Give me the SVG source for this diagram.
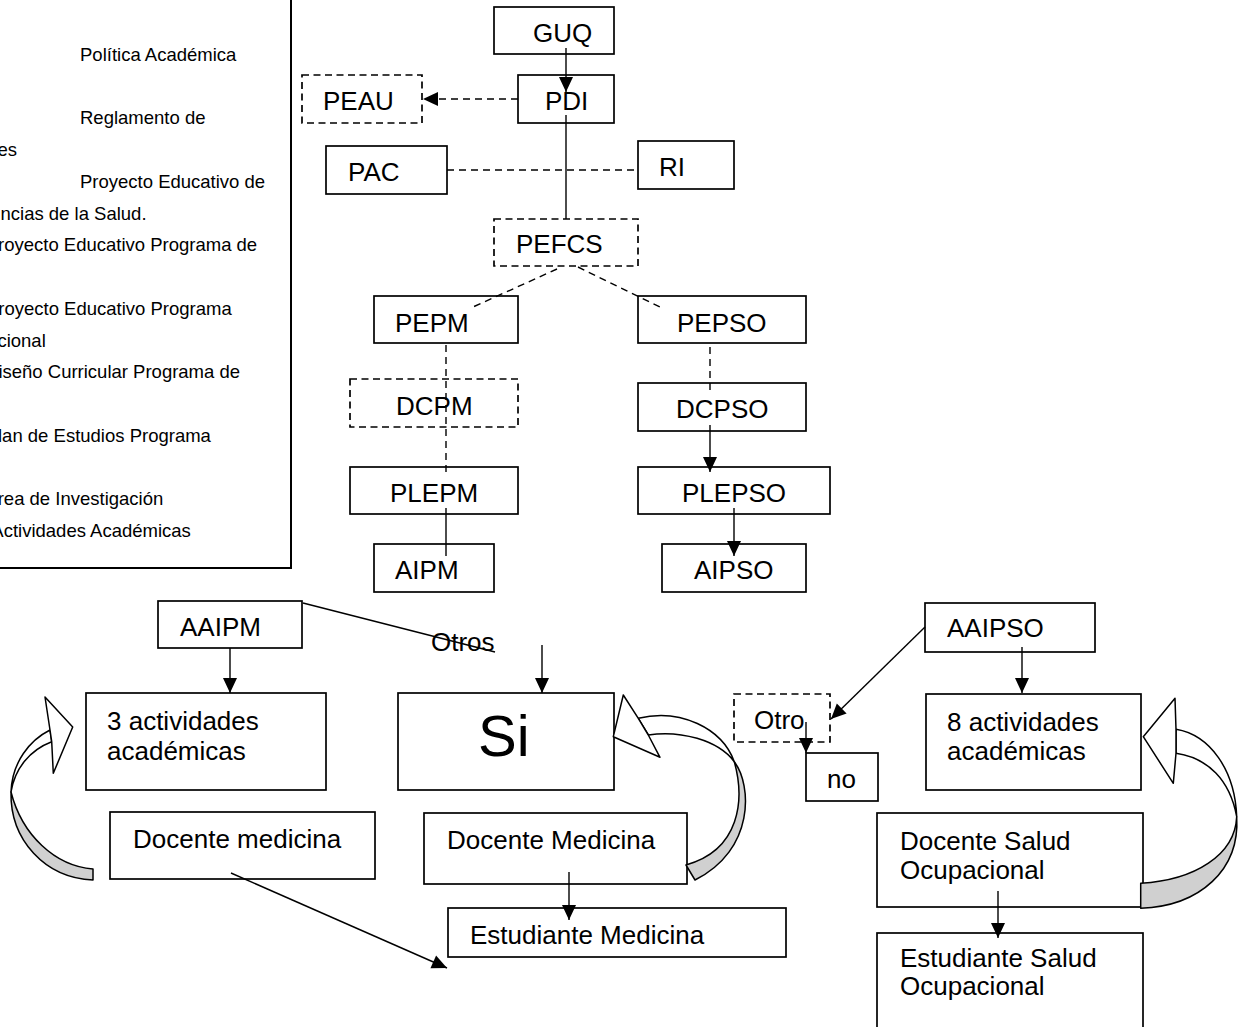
<svg xmlns="http://www.w3.org/2000/svg" width="1246" height="1027" viewBox="0 0 1246 1027">
  <style>
    text { font-family: "Liberation Sans", Arial, Helvetica, sans-serif; fill: #000; }
    .lbl { font-size: 26px; }
    .big { font-size: 58px; }
    .note { font-size: 18.5px; }
    .box { fill: #fff; stroke: #000; stroke-width: 1.7; }
    .dbox { fill: #fff; stroke: #000; stroke-width: 1.7; stroke-dasharray: 7 4.5; }
    .ln { fill: none; stroke: #000; stroke-width: 1.4; }
    .dln { fill: none; stroke: #000; stroke-width: 1.4; stroke-dasharray: 7 5; }
    .arr { marker-end: url(#head); }
    .front { fill: #fff; stroke: #000; stroke-width: 1.5; stroke-linejoin: round; }
    .back { fill: #d0d0d0; stroke: #000; stroke-width: 1.5; stroke-linejoin: round; }
  </style>
  <defs>
    <marker id="head" markerUnits="userSpaceOnUse" markerWidth="17" markerHeight="16" refX="15" refY="7" orient="auto" overflow="visible">
      <path d="M0,0 L15,7 L0,14 z" fill="#000"/>
    </marker>
  </defs>

  <rect width="1246" height="1027" fill="#fff"/>

  <!-- legend panel, partly outside the page -->
  <g id="legend">
    <rect x="-10" y="-10" width="301" height="578" fill="#fff" stroke="#000" stroke-width="2"/>
    <text class="note" x="80" y="60.7">Política Académica</text>
    <text class="note" x="80" y="124.2">Reglamento de</text>
    <text class="note" x="-2.5" y="156">es</text>
    <text class="note" x="80" y="187.7">Proyecto Educativo de</text>
    <text class="note" x="0.5" y="219.5">ncias de la Salud.</text>
    <text class="note" x="-2" y="251.2">royecto Educativo Programa de</text>
    <text class="note" x="-1.7" y="314.7">royecto Educativo Programa</text>
    <text class="note" x="-2.6" y="346.5">cional</text>
    <text class="note" x="-1.6" y="378.2">iseño Curricular Programa de</text>
    <text class="note" x="-2" y="441.7">lan de Estudios Programa</text>
    <text class="note" x="-2.3" y="505.2">rea de Investigación</text>
    <text class="note" x="-8.7" y="537">Actividades Académicas</text>
  </g>

  <!-- upper hierarchy -->
  <g id="GUQ"><rect class="box" x="494" y="7" width="120" height="47"/><text class="lbl" x="533" y="42">GUQ</text></g>
  <g id="PEAU"><rect class="dbox" x="302" y="75" width="120" height="48"/><text class="lbl" x="323" y="110">PEAU</text></g>
  <g id="PDI"><rect class="box" x="518" y="75" width="96" height="48"/><text class="lbl" x="545" y="110">PDI</text></g>
  <g id="PAC"><rect class="box" x="326" y="146" width="121" height="48"/><text class="lbl" x="348" y="181">PAC</text></g>
  <g id="RI"><rect class="box" x="638" y="141" width="96" height="48"/><text class="lbl" x="659" y="176">RI</text></g>
  <g id="PEFCS"><rect class="dbox" x="494" y="219" width="144" height="47"/><text class="lbl" x="516" y="253">PEFCS</text></g>
  <g id="PEPM"><rect class="box" x="374" y="296" width="144" height="47"/><text class="lbl" x="395" y="332">PEPM</text></g>
  <g id="PEPSO"><rect class="box" x="638" y="296" width="168" height="47"/><text class="lbl" x="677" y="332">PEPSO</text></g>
  <g id="DCPM"><rect class="dbox" x="350" y="379" width="168" height="48"/><text class="lbl" x="396" y="415">DCPM</text></g>
  <g id="DCPSO"><rect class="box" x="638" y="383" width="168" height="48"/><text class="lbl" x="676" y="418">DCPSO</text></g>
  <g id="PLEPM"><rect class="box" x="350" y="467" width="168" height="47"/><text class="lbl" x="390" y="502">PLEPM</text></g>
  <g id="PLEPSO"><rect class="box" x="638" y="467" width="192" height="47"/><text class="lbl" x="682" y="502">PLEPSO</text></g>
  <g id="AIPM"><rect class="box" x="374" y="544" width="120" height="48"/><text class="lbl" x="395" y="579">AIPM</text></g>
  <g id="AIPSO"><rect class="box" x="662" y="544" width="144" height="48"/><text class="lbl" x="694" y="579">AIPSO</text></g>

  <!-- activities -->
  <g id="AAIPM"><rect class="box" x="158" y="601" width="144" height="47"/><text class="lbl" x="180" y="636">AAIPM</text></g>
  <g id="Otros"><text class="lbl" x="431" y="651">Otros</text></g>
  <g id="AAIPSO"><rect class="box" x="925" y="603" width="170" height="49"/><text class="lbl" x="947" y="637">AAIPSO</text></g>
  <g id="act3"><rect class="box" x="86" y="693" width="240" height="97"/><text class="lbl" x="107" y="730">3 actividades</text><text class="lbl" x="107" y="760">académicas</text></g>
  <g id="Si"><rect class="box" x="398" y="693" width="216" height="97"/><text class="big" x="478" y="756">Si</text></g>
  <g id="Otro"><rect class="dbox" x="734" y="694" width="96" height="48"/><text class="lbl" x="754" y="729">Otro</text></g>
  <g id="no"><rect class="box" x="806" y="753" width="72" height="48"/><text class="lbl" x="827" y="788">no</text></g>
  <g id="act8"><rect class="box" x="926" y="694" width="215" height="96"/><text class="lbl" x="947" y="731">8 actividades</text><text class="lbl" x="947" y="760">académicas</text></g>
  <g id="docenteM1"><rect class="box" x="110" y="812" width="265" height="67"/><text class="lbl" x="133" y="848">Docente medicina</text></g>
  <g id="docenteM2"><rect class="box" x="424" y="813" width="263" height="71"/><text class="lbl" x="447" y="849">Docente Medicina</text></g>
  <g id="docenteSO"><rect class="box" x="877" y="813" width="266" height="94"/><text class="lbl" x="900" y="850">Docente Salud</text><text class="lbl" x="900" y="879">Ocupacional</text></g>
  <g id="estudianteM"><rect class="box" x="448" y="908" width="338" height="49"/><text class="lbl" x="470" y="944">Estudiante Medicina</text></g>
  <g id="estudianteSO"><rect class="box" x="877" y="933" width="266" height="120"/><text class="lbl" x="900" y="967">Estudiante Salud</text><text class="lbl" x="900" y="995">Ocupacional</text></g>

  <!-- connectors, drawn over the boxes -->
  <g id="connectors">
    <line class="ln arr" x1="566" y1="48" x2="566" y2="92"/>
    <line class="dln arr" x1="518" y1="99" x2="423" y2="99"/>
    <line class="ln" x1="566" y1="115" x2="566" y2="219"/>
    <line class="dln" x1="447" y1="170" x2="638" y2="170"/>
    <line class="dln" x1="557" y1="269" x2="473" y2="307"/>
    <line class="dln" x1="578" y1="267" x2="660" y2="307"/>
    <line class="dln" x1="446" y1="345" x2="446" y2="473"/>
    <line class="dln" x1="710" y1="347" x2="710" y2="391"/>
    <line class="ln arr" x1="710" y1="425" x2="710" y2="472"/>
    <line class="ln" x1="446" y1="508" x2="446" y2="556"/>
    <line class="ln arr" x1="734" y1="508" x2="734" y2="556"/>
    <line class="ln arr" x1="230" y1="648" x2="230" y2="693"/>
    <line class="ln" x1="303" y1="603" x2="495" y2="652"/>
    <line class="ln arr" x1="542" y1="645" x2="542" y2="693"/>
    <line class="ln arr" x1="925" y1="627" x2="831" y2="719"/>
    <line class="ln arr" x1="806" y1="722" x2="806" y2="753"/>
    <line class="ln arr" x1="1022" y1="647" x2="1022" y2="693"/>
    <line class="ln arr" x1="569" y1="872" x2="569" y2="920"/>
    <line class="ln arr" x1="231" y1="873" x2="447" y2="968"/>
    <line class="ln arr" x1="998" y1="891" x2="998" y2="938"/>
  </g>

  <!-- curved feedback arrows: white front face, grey back face near the tail -->
  <g id="curveLeft">
    <path class="back" d="M11,792 C10,840 45,878 93,880 L93,869 C55,866 22,835 11,792 Z"/>
    <path class="front" d="M50,730 C30,740 12,762 11,792 C15,768 30,750 51.7,741.7 Z"/>
    <path class="front" d="M50,730 L45,697 L72.7,727 L53.3,773.3 L51.7,741.7 Z"/>
  </g>
  <g id="curveMiddle">
    <path class="back" d="M734.3,761.7 C752,785 755,850 695,880 L686,865 C740,850 745,800 734.3,761.7 Z"/>
    <path class="front" d="M638.3,718.3 C680,708 722,728 734.3,761.7 C718,740 680,730 648.3,735 Z"/>
    <path class="front" d="M638.3,718.3 L623.3,695 L613.3,736.7 L660,757.3 L648.3,735 Z"/>
  </g>
  <g id="curveRight">
    <path class="back" d="M1236.7,816.7 C1240,870 1200,906 1140.7,908.3 L1140.7,883.3 C1195,880 1235,855 1236.7,816.7 Z"/>
    <path class="front" d="M1176,729.3 C1210,735 1235,770 1236.7,816.7 C1230,780 1208,758 1176,753.3 Z"/>
    <path class="front" d="M1176,729.3 L1175,698.3 L1143.3,736.7 L1173.3,783.3 L1176,753.3 Z"/>
  </g>
</svg>
